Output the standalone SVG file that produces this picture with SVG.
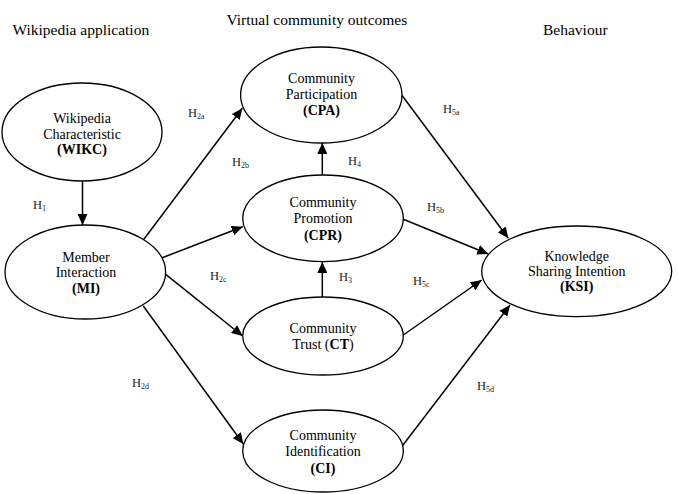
<svg xmlns="http://www.w3.org/2000/svg" width="678" height="494" viewBox="0 0 678 494">
<style>
.node ellipse{fill:#fff;stroke:#000;stroke-width:1.3}
.node text{font-family:"Liberation Serif","Times New Roman",serif;font-size:14px;fill:#000;text-anchor:middle}
.b{font-weight:bold}
.hdr{font-family:"Liberation Serif","Times New Roman",serif;font-size:15.5px;fill:#000}
.lbl{font-family:"Liberation Serif","Times New Roman",serif;font-size:12.5px;fill:#222}
.sub{font-size:8px}
.conn line{stroke:#000;stroke-width:1.5;marker-end:url(#ah)}
</style>
<defs>
<marker id="ah" markerUnits="userSpaceOnUse" markerWidth="12" markerHeight="10" refX="11" refY="5" orient="auto">
<path d="M0,0 L11,5 L0,10 Z" fill="#000"/>
</marker>
</defs>
<rect width="678" height="494" fill="#fff"/>
<g id="headers">
<text class="hdr" x="12.5" y="34.5">Wikipedia application</text>
<text class="hdr" x="226.5" y="25">Virtual community outcomes</text>
<text class="hdr" x="543" y="35">Behaviour</text>
</g>
<g id="connectors" class="conn">
<line x1="82.5" y1="181" x2="82.5" y2="225"/>
<line x1="143.3" y1="240" x2="242.3" y2="108.3"/>
<line x1="162.3" y1="257.7" x2="242.7" y2="226.7"/>
<line x1="165.7" y1="274.3" x2="242.7" y2="336"/>
<line x1="143.3" y1="306" x2="243.3" y2="444"/>
<line x1="322.3" y1="175" x2="322.3" y2="143"/>
<line x1="322.3" y1="297" x2="322.3" y2="262"/>
<line x1="401.7" y1="95" x2="508.3" y2="238.3"/>
<line x1="403.3" y1="219.3" x2="488.3" y2="254"/>
<line x1="403.3" y1="335" x2="481.7" y2="280"/>
<line x1="401.7" y1="446.7" x2="510" y2="305"/>
</g>
<g id="labels" class="lbl">
<text x="33" y="209">H<tspan class="sub" dy="1.5">1</tspan></text>
<text x="188" y="117">H<tspan class="sub" dy="1.5">2a</tspan></text>
<text x="232" y="166">H<tspan class="sub" dy="1.5">2b</tspan></text>
<text x="210" y="280">H<tspan class="sub" dy="1.5">2c</tspan></text>
<text x="132" y="387">H<tspan class="sub" dy="1.5">2d</tspan></text>
<text x="339" y="281">H<tspan class="sub" dy="1.5">3</tspan></text>
<text x="348" y="165">H<tspan class="sub" dy="1.5">4</tspan></text>
<text x="443" y="113">H<tspan class="sub" dy="1.5">5a</tspan></text>
<text x="427" y="211">H<tspan class="sub" dy="1.5">5b</tspan></text>
<text x="413" y="285">H<tspan class="sub" dy="1.5">5c</tspan></text>
<text x="477" y="390">H<tspan class="sub" dy="1.5">5d</tspan></text>
</g>
<g id="WIKC" class="node">
<ellipse cx="82" cy="132" rx="80" ry="49"/>
<text x="82" y="123.3">Wikipedia</text>
<text x="82" y="138.6">Characteristic</text>
<text x="82" y="154.3" class="b">(WIKC)</text>
</g>
<g id="MI" class="node">
<ellipse cx="85.3" cy="272" rx="80.3" ry="47"/>
<text x="86" y="261.7">Member</text>
<text x="86" y="277.3">Interaction</text>
<text x="86" y="293.3" class="b">(MI)</text>
</g>
<g id="CPA" class="node">
<ellipse cx="321.3" cy="95" rx="80.7" ry="48"/>
<text x="321.5" y="83.3">Community</text>
<text x="321.5" y="99">Participation</text>
<text x="321.5" y="115" class="b">(CPA)</text>
</g>
<g id="CPR" class="node">
<ellipse cx="323" cy="218.3" rx="80.3" ry="43.3"/>
<text x="323" y="206.7">Community</text>
<text x="323" y="223">Promotion</text>
<text x="323" y="240" class="b">(CPR)</text>
</g>
<g id="CT" class="node">
<ellipse cx="323" cy="336" rx="80.3" ry="39"/>
<text x="323" y="333">Community</text>
<text x="323" y="349">Trust (<tspan class="b">CT</tspan>)</text>
</g>
<g id="CI" class="node">
<ellipse cx="323" cy="451" rx="80.3" ry="41"/>
<text x="323" y="440">Community</text>
<text x="323" y="456">Identification</text>
<text x="323" y="472.7" class="b">(CI)</text>
</g>
<g id="KSI" class="node">
<ellipse cx="576.7" cy="271.3" rx="95" ry="45.3"/>
<text x="576.7" y="260.7">Knowledge</text>
<text x="576.7" y="275.7">Sharing Intention</text>
<text x="576.7" y="291" class="b">(KSI)</text>
</g>
</svg>
